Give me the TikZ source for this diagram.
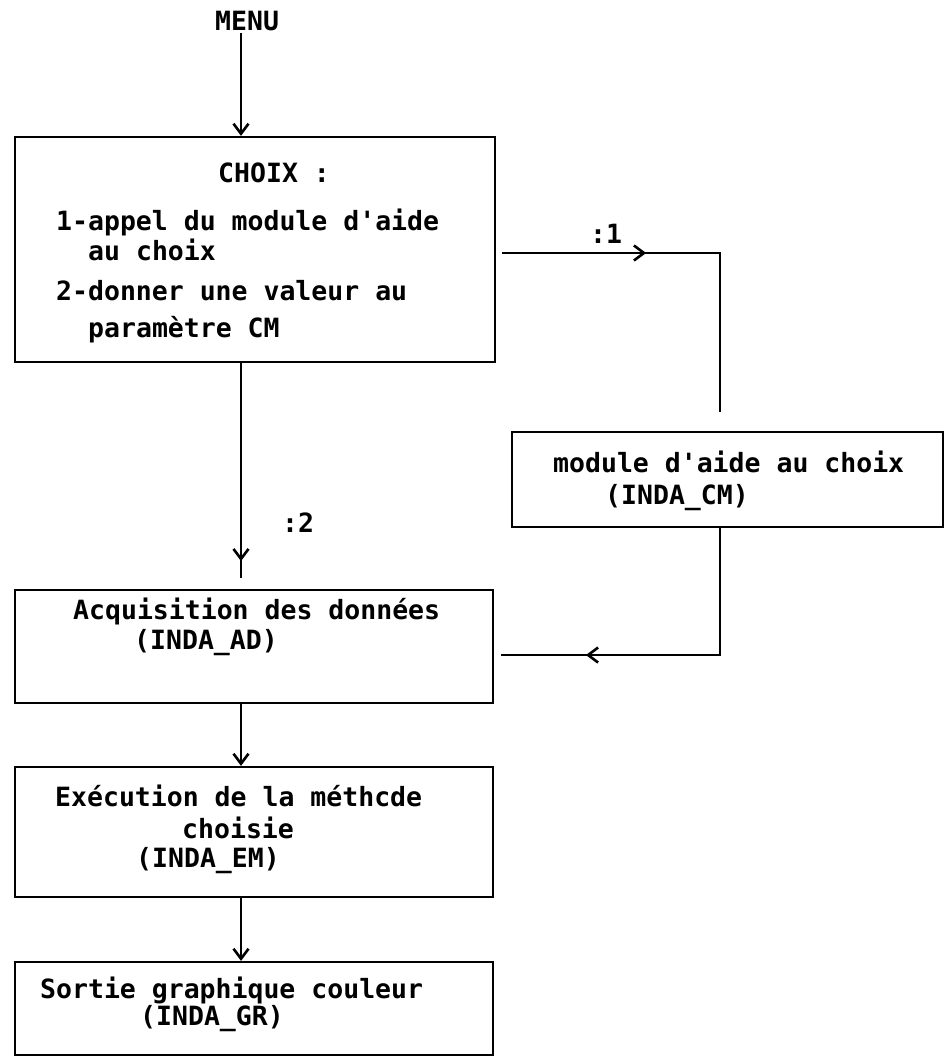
\documentclass[tikz,border=0pt]{standalone}
\usepackage{fontspec}
\setmonofont{DejaVu Sans Mono}
\usetikzlibrary{arrows.meta,decorations.markings}

\begin{document}
\begin{tikzpicture}[
        x=1pt, y=-1pt,
        box/.style={rectangle, draw, line width=2.2pt, inner sep=0pt},
        txt/.style={anchor=base west, inner sep=0pt, font=\ttfamily\bfseries\fontsize{26.5}{30}\selectfont},
        link/.style={line width=2.2pt},
        tip/.style={-{Straight Barb[length=10pt, width=15pt, line width=2.6pt]}},
        midtip/.style={postaction={decorate}, decoration={markings, mark=at position #1 with {\arrow{Straight Barb[length=10pt, width=15pt, line width=2.6pt]}}}}
    ]
        \useasboundingbox (0,0) rectangle (950,1057);

        \coordinate (axis) at (241,0);
        \coordinate (k1) at (720,253);
        \coordinate (k1end) at (720,412);
        \coordinate (k2end) at (241,578);
        \coordinate (k3) at (720,655);

        \node[txt] (menu) at (215,31) {MENU};

        % CHOIX
        \node[box, minimum width=480pt, minimum height=225pt] (choix) at (255,249.5) {};
        \node[txt] (choix_t) at (218,182) {CHOIX :};
        \node[txt] (choix_1) at (56,230) {1-appel du module d'aide};
        \node[txt] (choix_1b) at (88,260) {au choix};
        \node[txt] (choix_2) at (56,300) {2-donner une valeur au};
        \node[txt] (choix_2b) at (88,337) {paramètre CM};

        % module d'aide
        \node[box, minimum width=431pt, minimum height=95pt] (module) at (727.5,479.5) {};
        \node[txt] (module_t) at (553,472) {module d'aide au choix};
        \node[txt] (module_n) at (605,504) {(INDA\_CM)};

        \node[box, minimum width=478pt, minimum height=113pt] (acq) at (254,646.5) {};
        \node[txt] (acq_t) at (73,619) {Acquisition des données};
        \node[txt] (acq_n) at (134,649) {(INDA\_AD)};

        \node[box, minimum width=478pt, minimum height=130pt] (exec) at (254,832) {};
        \node[txt] (exec_t) at (55,806) {Exécution de la méthcde};
        \node[txt] (exec_t2) at (182,838) {choisie};
        \node[txt] (exec_n) at (136,867) {(INDA\_EM)};

        \node[box, minimum width=478pt, minimum height=93pt] (sortie) at (254,1008.5) {};
        \node[txt] (sortie_t) at (40,998) {Sortie graphique couleur};
        \node[txt] (sortie_n) at (140,1025) {(INDA\_GR)};

        % arrows
        \draw[link, tip] (axis |- 0,33) -- (axis |- choix.north);
        \draw[link, shorten <=6pt, midtip=150pt] (choix.east |- k1) -- (k1) -- (k1end);
        \node[txt] (lab1) at (590,243) {:1};
        \draw[link, midtip=198pt] (choix.south -| axis) -- (k2end);
        \node[txt] (lab2) at (282,532) {:2};
        \draw[link, shorten >=7pt, midtip=261pt] (module.south -| k3) -- (k3) -- (k3 -| acq.east);
        \draw[link, tip] (acq.south -| axis) -- (axis |- exec.north);
        \draw[link, tip] (exec.south -| axis) -- (axis |- sortie.north);

    \end{tikzpicture}
\end{document}
